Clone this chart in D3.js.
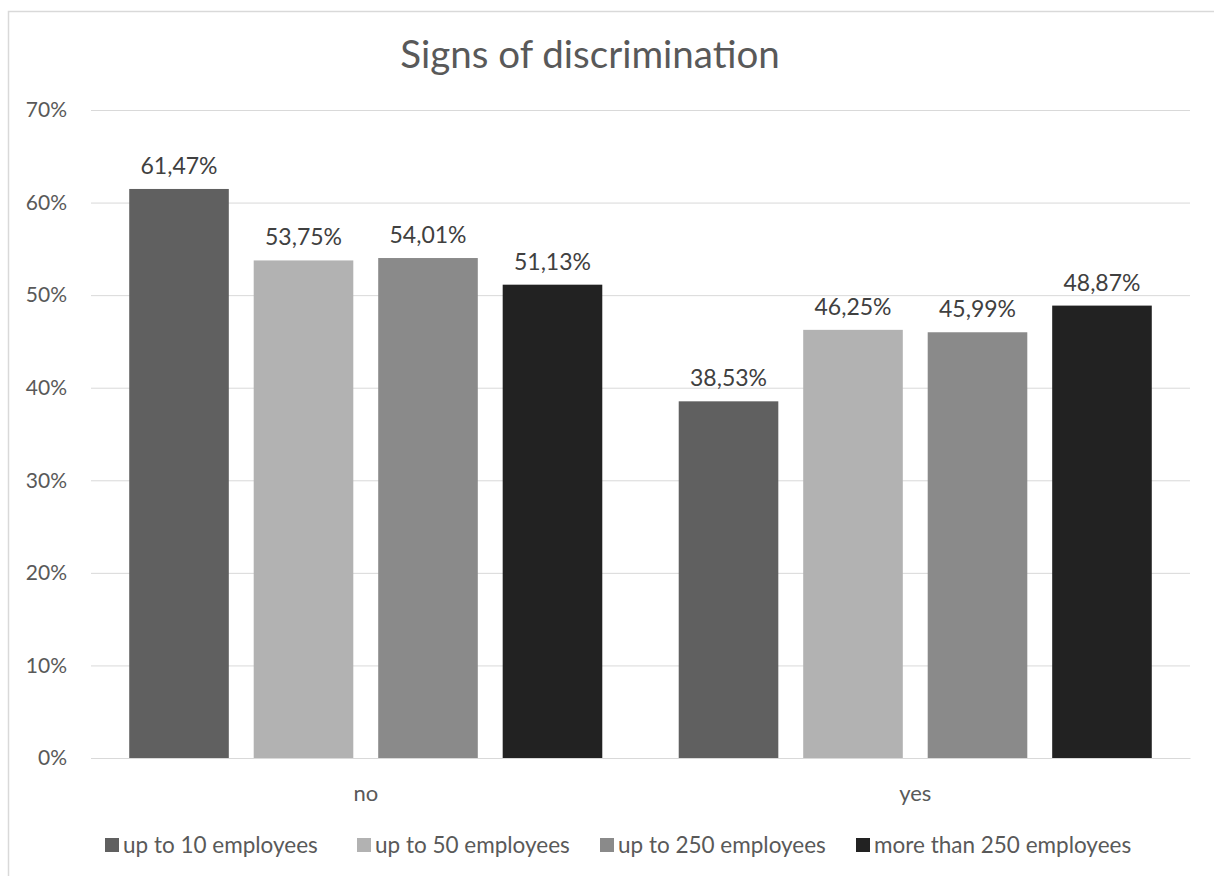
<!DOCTYPE html>
<html>
<head>
<meta charset="utf-8">
<script src="https://cdn.jsdelivr.net/npm/d3@7"></script>
<style>
  html, body { margin: 0; padding: 0; background: #fff; }
  svg { display: block; font-family: Lato, "Open Sans", sans-serif; }
</style>
</head>
<body>
<svg id="chart" width="1214" height="876"></svg>
<script>
// Answer categories on the x axis
const categories = ["no", "yes"];
// Company-size series
const seriesNames = ["up to 10 employees", "up to 50 employees", "up to 250 employees", "more than 250 employees"];
const seriesColors = ["#606060", "#b2b2b2", "#8a8a8a", "#222222"];
// Share per category, one array per series (percent)
const upTo10 = [61.47, 38.53];
const upTo50 = [53.75, 46.25];
const upTo250 = [54.01, 45.99];
const moreThan250 = [51.13, 48.87];
const seriesValues = [upTo10, upTo50, upTo250, moreThan250];
// Y axis ticks (percent)
const yTicks = [0, 10, 20, 30, 40, 50, 60, 70];

const svg = d3.select("#chart");
const W = 1214, H = 876;
const plot = { left: 91, right: 1190, top: 110, bottom: 758 };

// chart frame (runs off the right and bottom of the canvas)
svg.append("rect")
  .attr("x", 8.5).attr("y", 11.5)
  .attr("width", W + 20).attr("height", H + 20)
  .attr("fill", "#fff").attr("stroke", "#d9d9d9").attr("stroke-width", 1.5);

const y = d3.scaleLinear().domain([0, 70]).range([plot.bottom, plot.top]);
const x0 = d3.scaleBand().domain(categories).range([plot.left, plot.right]).paddingInner(0).paddingOuter(0);
const x1 = d3.scaleBand().domain(d3.range(seriesNames.length))
  .range([0, x0.bandwidth()]).paddingInner(0.2).paddingOuter(0.307);

// gridlines and percent ticks
const yAxis = d3.axisLeft(y).tickValues(yTicks)
  .tickSize(-(plot.right - plot.left)).tickPadding(24)
  .tickFormat(d => d + "%");
const gy = svg.append("g").attr("transform", `translate(${plot.left},0)`).call(yAxis);
gy.select(".domain").remove();
gy.selectAll(".tick line").attr("stroke", "#d9d9d9").attr("stroke-width", 1);
gy.selectAll(".tick text")
  .attr("fill", "#595959").attr("font-size", 21)
  .attr("font-family", "Lato, 'Open Sans', sans-serif");

// bars
const groups = svg.append("g").selectAll("g")
  .data(categories)
  .join("g")
  .attr("transform", d => `translate(${x0(d)},0)`);

groups.selectAll("rect")
  .data((c, ci) => seriesValues.map((vals, si) => ({ si, v: vals[ci] })))
  .join("rect")
  .attr("x", d => x1(d.si))
  .attr("width", x1.bandwidth())
  .attr("y", d => y(d.v))
  .attr("height", d => plot.bottom - y(d.v))
  .attr("fill", d => seriesColors[d.si]);

// value labels
const fmt = v => v.toFixed(2).replace(".", ",") + "%";
groups.selectAll("text.val")
  .data((c, ci) => seriesValues.map((vals, si) => ({ si, v: vals[ci] })))
  .join("text")
  .attr("class", "val")
  .attr("x", d => x1(d.si) + x1.bandwidth() / 2)
  .attr("y", d => y(d.v) - 15)
  .attr("text-anchor", "middle")
  .attr("fill", "#404040")
  .attr("font-size", 23)
  .text(d => fmt(d.v));

// category axis labels
const xAxis = d3.axisBottom(x0).tickSize(0).tickPadding(27);
const gx = svg.append("g").attr("transform", `translate(0,${plot.bottom})`).call(xAxis);
gx.select(".domain").attr("stroke", "#d9d9d9");
gx.selectAll(".tick text")
  .attr("fill", "#595959").attr("font-size", 22)
  .attr("font-family", "Lato, 'Open Sans', sans-serif");

// title
svg.append("text")
  .attr("x", 590).attr("y", 68)
  .attr("text-anchor", "middle")
  .attr("fill", "#595959")
  .attr("font-size", 38.5)
  .text("Signs of discrimination");

// legend
const legendX = [105, 357, 600, 856];
const legend = svg.append("g").selectAll("g")
  .data(seriesNames)
  .join("g")
  .attr("transform", (d, i) => `translate(${legendX[i]},845)`);
legend.append("rect")
  .attr("x", 0).attr("y", -7).attr("width", 14).attr("height", 14)
  .attr("fill", (d, i) => seriesColors[i]);
legend.append("text")
  .attr("x", 18).attr("y", 8)
  .attr("fill", "#595959")
  .attr("font-size", 22.5)
  .text(d => d);
</script>
</body>
</html>
